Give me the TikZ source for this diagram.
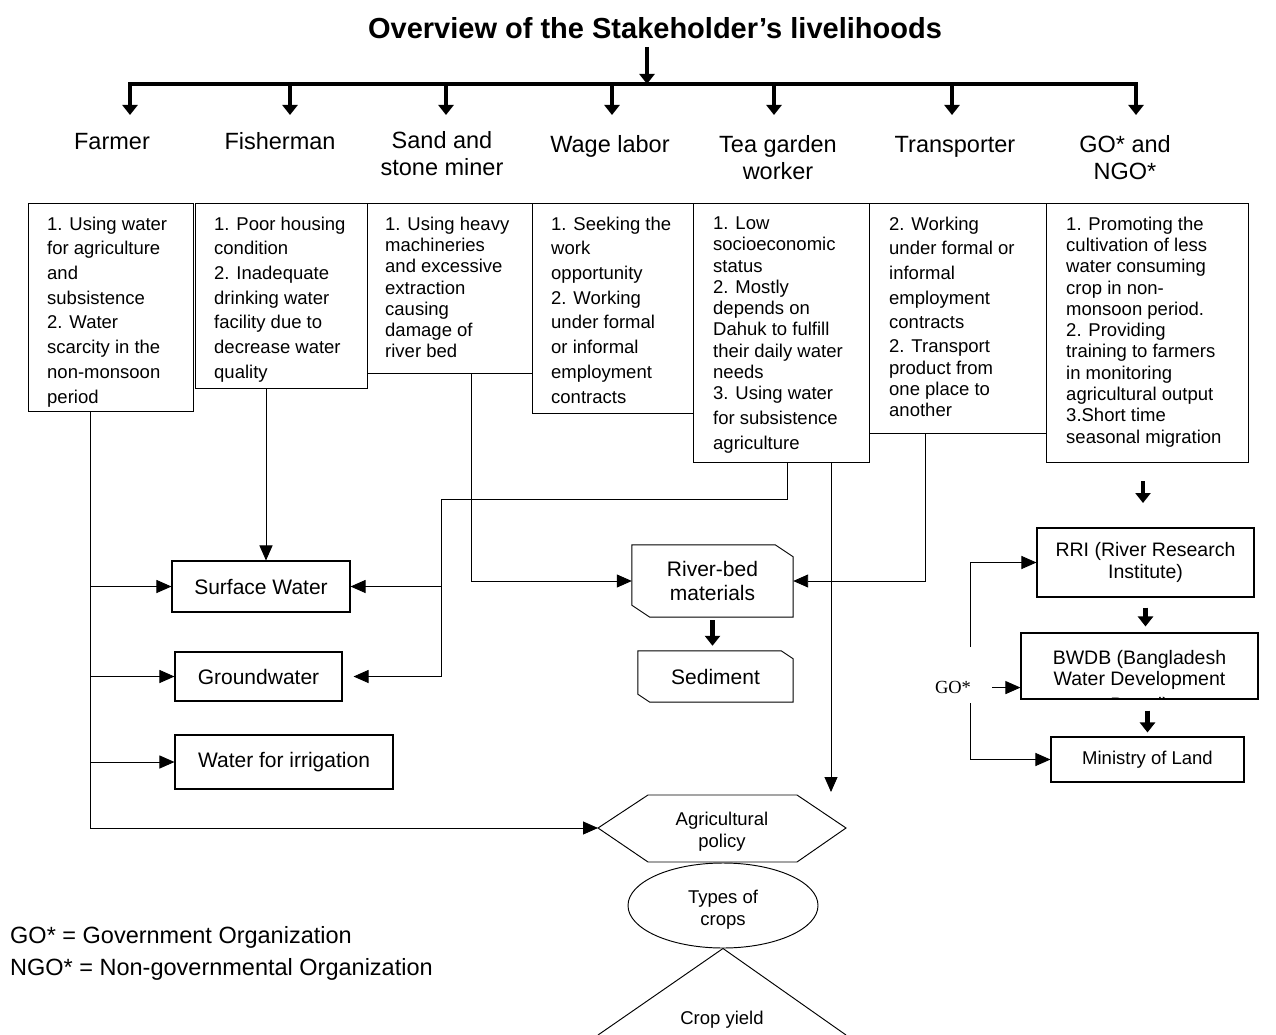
\documentclass[tikz,border=0pt]{standalone}
\usepackage{fontspec}
\setmainfont{Liberation Sans}
\newfontfamily\timesf{Liberation Serif}
\usetikzlibrary{arrows.meta,shapes.geometric,calc}
\begin{document}
\begin{tikzpicture}[x=1pt,y=-1pt,
  box/.style={draw,line width=1.05pt,inner sep=0pt,anchor=north west},
  cbox/.style={draw,line width=1.05pt,inner sep=0pt,align=center,font=\fontsize{21pt}{24.2pt}\selectfont},
  btext/.style={anchor=north west,inner sep=0pt,align=left,font=\fontsize{18.5pt}{21.3pt}\selectfont},
  btextw/.style={anchor=north west,inner sep=0pt,align=left,font=\fontsize{18.5pt}{24.7pt}\selectfont},
  lbl/.style={font=\fontsize{23.5pt}{27pt}\selectfont,align=center,inner sep=0pt},
  small/.style={font=\fontsize{18.5pt}{22pt}\selectfont,align=center,inner sep=0pt},
  conn/.style={line width=0.95pt,-{Triangle[length=15pt,width=13pt]}},
  plain/.style={line width=0.95pt},
  thickarrow/.style={line width=4.5pt,-{Triangle[length=10pt,width=15pt]}},
  barline/.style={line width=4.5pt,line cap=rect}]
\useasboundingbox (0,0) rectangle (1276,1035);

% title
\node[font=\fontsize{29pt}{33pt}\selectfont\bfseries,anchor=base,inner sep=0pt] (title) at (655,38.4) {Overview of the Stakeholder’s livelihoods};
\coordinate (tt) at (647,47);
\coordinate (tb) at (647,84);
\draw[thickarrow] (tt) -- (tb);

% bar and down arrows
\coordinate (b1) at (130,84);  \coordinate (t1) at (130,115);
\coordinate (b2) at (290,84);  \coordinate (t2) at (290,115);
\coordinate (b3) at (446,84);  \coordinate (t3) at (446,115);
\coordinate (b4) at (612,84);  \coordinate (t4) at (612,115);
\coordinate (b5) at (774,84);  \coordinate (t5) at (774,115);
\coordinate (b6) at (952,84);  \coordinate (t6) at (952,115);
\coordinate (b7) at (1136,84); \coordinate (t7) at (1136,115);
\draw[barline] (b1) -- (b7);
\foreach \i in {1,...,7} {\draw[thickarrow] (b\i) -- (t\i);}

% stakeholder labels
\node[lbl,anchor=base] (lfar) at (112,149.4) {Farmer};
\node[lbl,anchor=base] (lfis) at (280,149.4) {Fisherman};
\node[lbl] (lsan) at (442,153.4) {Sand and\\stone miner};
\node[lbl,anchor=base] (lwag) at (610,152.4) {Wage labor};
\node[lbl] (ltea) at (778,157.4) {Tea garden\\worker};
\node[lbl,anchor=base] (ltra) at (955,152.4) {Transporter};
\node[lbl] (lgo) at (1125,157.4) {GO* and\\NGO*};

% top row boxes
\node[box,minimum width=165pt,minimum height=208pt] (farmer) at (28,203) {};
\node[box,minimum width=172pt,minimum height=185pt] (fish) at (195,203) {};
\node[box,minimum width=165pt,minimum height=170pt] (sand) at (367,203) {};
\node[box,minimum width=161pt,minimum height=210pt] (wage) at (532,203) {};
\node[box,minimum width=176pt,minimum height=259pt] (tea) at (693,203) {};
\node[box,minimum width=177pt,minimum height=230pt] (trans) at (869,203) {};
\node[box,minimum width=202pt,minimum height=259pt] (gov) at (1046,203) {};

\node[btextw] (farmerT) at (47,216.5) {1. Using water\\for agriculture\\and\\subsistence\\2. Water\\scarcity in the\\non-monsoon\\period};
\node[btextw] (fishT) at (214,216.5) {1. Poor housing\\condition\\2. Inadequate\\drinking water\\facility due to\\decrease water\\quality};
\node[btext] (sandT) at (385,216.5) {1. Using heavy\\machineries\\and excessive\\extraction\\causing\\damage of\\river bed};
\node[btextw] (wageT) at (551,216.5) {1. Seeking the\\work\\opportunity\\2. Working\\under formal\\or informal\\employment\\contracts};
\node[btext] (teaT) at (713,216.5) {1. Low\\socioeconomic\\status\\2. Mostly\\depends on\\Dahuk to fulfill\\their daily water\\needs\\3. Using water\\[3pt]for subsistence\\[4pt]agriculture};
\node[btext] (transT) at (889,216.5) {2. Working\\[3.4pt]under formal or\\[3.4pt]informal\\[3.4pt]employment\\[3.4pt]contracts\\[2.7pt]2. Transport\\product from\\one place to\\another};
\node[btext] (govT) at (1066,216.5) {1. Promoting the\\cultivation of less\\water consuming\\crop in non-\\monsoon period.\\2. Providing\\training to farmers\\in monitoring\\agricultural output\\3.Short time\\seasonal migration};

% water boxes
\node[cbox,minimum width=178pt,minimum height=51pt] (surf) at (261,586.5) {Surface Water};
\node[cbox,minimum width=167pt,minimum height=49pt] (gw) at (258.5,676.5) {Groundwater};
\node[cbox,minimum width=218pt,minimum height=54pt] (irr) at (284,762) {Water for irrigation};

% river-bed and sediment (chamfered)
\node[align=center,inner sep=0pt,minimum width=161pt,minimum height=72pt,font=\fontsize{21pt}{24pt}\selectfont] (riv) at (712.5,581) {River-bed\\materials};
\draw[plain] (riv.north west) -- ($(riv.north east)+(-18,0)$) -- ($(riv.north east)+(0,12)$) -- (riv.south east) -- ($(riv.south west)+(18,0)$) -- ($(riv.south west)+(0,-12)$) -- cycle;
\node[inner sep=0pt,minimum width=155pt,minimum height=51pt,font=\fontsize{21pt}{24pt}\selectfont] (sed) at (715.5,676.5) {Sediment};
\draw[plain] (sed.north west) -- ($(sed.north east)+(-12,0)$) -- ($(sed.north east)+(0,8)$) -- (sed.south east) -- ($(sed.south west)+(12,0)$) -- ($(sed.south west)+(0,-8)$) -- cycle;
\draw[thickarrow,shorten <=3pt,shorten >=5pt] (riv.south) -- (riv.south |- sed.north);

% hexagon
\coordinate (hW) at (598,828);
\coordinate (hNW) at (648,795);
\coordinate (hNE) at (797,795);
\coordinate (hE) at (846,828);
\coordinate (hSE) at (797,862);
\coordinate (hSW) at (648,862);
\draw[plain] (hW) -- (hNW) -- (hNE) -- (hE) -- (hSE) -- (hSW) -- cycle;
\node[small] (agri) at (722,831.5) {Agricultural\\policy};

% ellipse
\node[draw,ellipse,line width=0.95pt,minimum width=190pt,minimum height=85pt,inner sep=0pt] (crops) at (723,905.5) {};
\node[small] (cropsT) at (723,909.5) {Types of\\crops};

% triangle
\coordinate (trL) at (598,1035);
\coordinate (trR) at (846,1035);
\draw[plain] (trL) -- (crops.south) -- (trR);
\node[small,anchor=base] (yield) at (722,1024.6) {Crop yield};

% connectors
\coordinate (fl) at ($(farmer.south west)+(62,0)$);
\draw[conn] (fl) |- (hW);
\draw[conn] (fl |- surf.west) -- (surf.west);
\draw[conn] (fl |- gw.west) -- (gw.west);
\draw[conn] (fl |- irr.west) -- (irr.west);

\coordinate (fs) at ($(fish.south west)+(71,0)$);
\draw[conn] (fs) -- (fs |- surf.north);

\coordinate (te1) at ($(tea.south west)+(94,0)$);
\coordinate (tk) at (441,499);
\draw[conn] (te1) |- (tk) |- ($(gw.east)+(11,0)$);
\draw[conn] (tk |- surf.east) -- (surf.east);

\coordinate (sx) at ($(sand.south west)+(104,0)$);
\draw[conn] (sx) |- (riv.west);

\coordinate (te2) at ($(tea.south west)+(138,0)$);
\coordinate (te2e) at (831,792);
\draw[conn] (te2) -- (te2e);

\coordinate (tr) at ($(trans.south west)+(56,0)$);
\draw[conn] (tr) |- (riv.east);

% right side
\coordinate (g1) at (1143,481);
\coordinate (g2) at (1143,503);
\draw[thickarrow] (g1) -- (g2);

\node[cbox,minimum width=217pt,minimum height=69pt,font=\fontsize{19.5pt}{22pt}\selectfont] (rri) at (1145.5,562.5) {RRI (River Research\\Institute)};
\node[draw,line width=1.05pt,inner sep=0pt,minimum width=237pt,minimum height=66pt] (bwdb) at (1139.5,666) {};
\begin{scope}
\clip (bwdb.south west) rectangle (bwdb.north east);
\node[align=center,inner sep=0pt,anchor=north,font=\fontsize{19.5pt}{21.5pt}\selectfont] (bwdbT) at (1139.5,650) {BWDB (Bangladesh\\Water Development\\[4.5pt]Board)};
\end{scope}
\node[cbox,minimum width=193pt,minimum height=45pt,font=\fontsize{18.5pt}{22pt}\selectfont] (min) at (1147.5,759.5) {Ministry of Land};

\draw[thickarrow,shorten <=10pt,shorten >=6pt] (rri.south) -- (rri.south |- bwdb.north);
\draw[thickarrow,shorten <=11pt,shorten >=4pt] (min.north |- bwdb.south) -- (min.north);

\coordinate (ga) at (970,647);
\coordinate (gb) at (970,703);
\draw[conn] (ga) |- (rri.west);
\draw[conn] (gb) |- (min.west);
\node[font=\timesf\fontsize{18.5pt}{22pt}\selectfont,anchor=base,inner sep=0pt] (golbl) at (953,693.6) {GO*};
\draw[conn,shorten <=21pt] (golbl.east) -- (golbl.east -| bwdb.west);

% legend
\node[font=\fontsize{23.5pt}{27pt}\selectfont,anchor=base west,inner sep=0pt] (leg1) at (10,943.4) {GO* = Government Organization};
\node[font=\fontsize{23.5pt}{27pt}\selectfont,anchor=base west,inner sep=0pt] (leg2) at (10,975.4) {NGO* = Non-governmental Organization};
\end{tikzpicture}
\end{document}
